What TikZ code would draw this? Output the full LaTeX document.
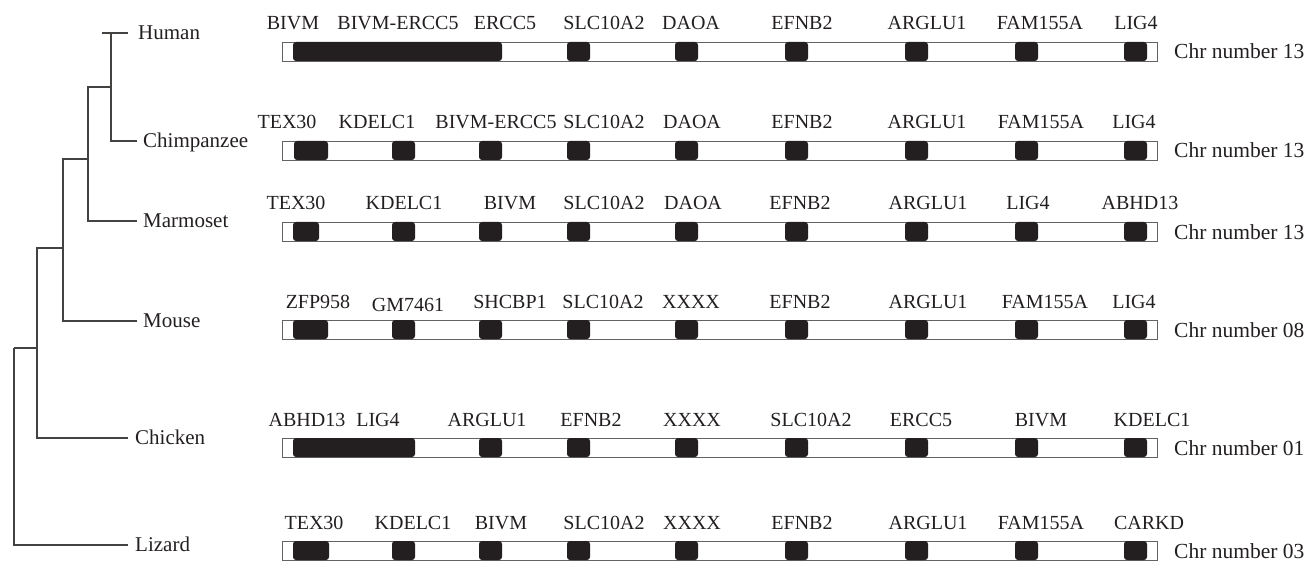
\documentclass[tikz,border=0pt]{standalone}
\usepackage{fontspec}
\setmainfont{Liberation Serif}
\usetikzlibrary{positioning}
\definecolor{ink}{HTML}{231F20}

\begin{document}
\begin{tikzpicture}[x=1pt,y=-1pt,
  branch/.style={draw=ink!85,line width=1.2pt},
  taxon/.style={font=\fontsize{21}{25}\selectfont,text=ink,inner sep=0pt,
    text height=13.5pt,text depth=0pt,anchor=west},
  gene/.style={font=\fontsize{20}{24}\selectfont,text=ink,inner sep=0pt,anchor=base},
  chrbar/.style={draw=ink!70,fill=white,line width=1pt,minimum width=875pt,
    minimum height=19pt,inner sep=0pt,anchor=north west},
  blk/.style={fill=ink,rounded corners=3pt},
  chr/.style={font=\fontsize{21.5}{25}\selectfont,text=ink,inner sep=0pt,
    text height=14pt,text depth=0pt}]
  \useasboundingbox (0,0) rectangle (1306,564);

  % tree
  \coordinate (n1) at (111,87);
  \coordinate (n2) at (88,159);
  \coordinate (n3) at (63,248);
  \coordinate (n4) at (37,348);
  \coordinate (n5) at (14,348);
  \coordinate (hStub) at (102,33);
  \coordinate (tHuman) at (128,33);
  \coordinate (tChimp) at (137,141);
  \coordinate (tMarm) at (137,221);
  \coordinate (tMouse) at (137,321);
  \coordinate (tChick) at (128,438);
  \coordinate (tLiz) at (128,545);

  \draw[branch] (hStub) -- (tHuman);
  \draw[branch] (n1) |- (tHuman);
  \draw[branch] (n1) |- (tChimp);
  \draw[branch] (n2) |- (n1);
  \draw[branch] (n2) |- (tMarm);
  \draw[branch] (n3) |- (n2);
  \draw[branch] (n3) |- (tMouse);
  \draw[branch] (n4) |- (n3);
  \draw[branch] (n4) |- (tChick);
  \draw[branch] (n5) |- (n4);
  \draw[branch] (n5) |- (tLiz);

  \node[taxon,right=10pt of tHuman] (human) {Human};
  \node[taxon,right=6pt of tChimp] (chimp) {Chimpanzee};
  \node[taxon,right=6pt of tMarm] (marm) {Marmoset};
  \node[taxon,right=6pt of tMouse] (mouse) {Mouse};
  \node[taxon,right=7pt of tChick] (chick) {Chicken};
  \node[taxon,right=7pt of tLiz] (liz) {Lizard};

  % Human
  \node[chrbar] (barH) at (282,42) {};
  \fill[blk] (293,42) rectangle (502,61);
  \foreach \c in {578.5,686.5,796.5,916.5,1026.5,1135.5}
    \fill[blk] (\c-11.5,42) rectangle (\c+11.5,61);
  \node[chr,right=16pt of barH] (chrH) {Chr number 13};
  \foreach \x/\g [count=\i] in {293/BIVM,398/BIVM-ERCC5,505/ERCC5,604/SLC10A2,
      691/DAOA,802/EFNB2,927/ARGLU1,1040/FAM155A,1136/LIG4}
    \node[gene] (gH\i) at (\x,30) {\g};

  % Chimpanzee
  \node[chrbar] (barC) at (282,141) {};
  \fill[blk] (294,141) rectangle (328,160);
  \foreach \c in {403.5,490.5,578.5,686.5,796.5,916.5,1026.5,1135.5}
    \fill[blk] (\c-11.5,141) rectangle (\c+11.5,160);
  \node[chr,right=16pt of barC] (chrC) {Chr number 13};
  \foreach \x/\g [count=\i] in {287/TEX30,377/KDELC1,496/BIVM-ERCC5,604/SLC10A2,
      692/DAOA,802/EFNB2,927/ARGLU1,1041/FAM155A,1134/LIG4}
    \node[gene] (gC\i) at (\x,129) {\g};

  % Marmoset
  \node[chrbar] (barM) at (282,222) {};
  \fill[blk] (293,222) rectangle (319,241);
  \foreach \c in {403.5,490.5,578.5,686.5,796.5,916.5,1026.5,1135.5}
    \fill[blk] (\c-11.5,222) rectangle (\c+11.5,241);
  \node[chr,right=16pt of barM] (chrM) {Chr number 13};
  \foreach \x/\g [count=\i] in {296/TEX30,404/KDELC1,510/BIVM,604/SLC10A2,
      693/DAOA,800/EFNB2,928/ARGLU1,1028/LIG4,1140/ABHD13}
    \node[gene] (gM\i) at (\x,210) {\g};

  % Mouse
  \node[chrbar] (barMo) at (282,320) {};
  \fill[blk] (293,320) rectangle (328,339);
  \foreach \c in {403.5,490.5,578.5,686.5,796.5,916.5,1026.5,1135.5}
    \fill[blk] (\c-11.5,320) rectangle (\c+11.5,339);
  \node[chr,right=16pt of barMo] (chrMo) {Chr number 08};
  \foreach \x/\g [count=\i] in {318/ZFP958,510/SHCBP1,603/SLC10A2,
      691/XXXX,800/EFNB2,928/ARGLU1,1045/FAM155A,1134/LIG4}
    \node[gene] (gMo\i) at (\x,308) {\g};
  \node[gene] (gMo9) at (408,311) {GM7461};

  % Chicken
  \node[chrbar] (barCk) at (282,438) {};
  \fill[blk] (293,438) rectangle (415,457);
  \foreach \c in {490.5,578.5,686.5,796.5,916.5,1026.5,1135.5}
    \fill[blk] (\c-11.5,438) rectangle (\c+11.5,457);
  \node[chr,right=16pt of barCk] (chrCk) {Chr number 01};
  \foreach \x/\g [count=\i] in {307/ABHD13,378/LIG4,487/ARGLU1,591/EFNB2,
      692/XXXX,811/SLC10A2,921/ERCC5,1041/BIVM,1152/KDELC1}
    \node[gene] (gCk\i) at (\x,426) {\g};

  % Lizard
  \node[chrbar] (barL) at (282,541) {};
  \fill[blk] (293,541) rectangle (329,560);
  \foreach \c in {403.5,490.5,578.5,686.5,796.5,916.5,1026.5,1135.5}
    \fill[blk] (\c-11.5,541) rectangle (\c+11.5,560);
  \node[chr,right=16pt of barL] (chrL) {Chr number 03};
  \foreach \x/\g [count=\i] in {314/TEX30,413/KDELC1,501/BIVM,604/SLC10A2,
      692/XXXX,802/EFNB2,928/ARGLU1,1041/FAM155A,1149/CARKD}
    \node[gene] (gL\i) at (\x,529) {\g};
\end{tikzpicture}
\end{document}
